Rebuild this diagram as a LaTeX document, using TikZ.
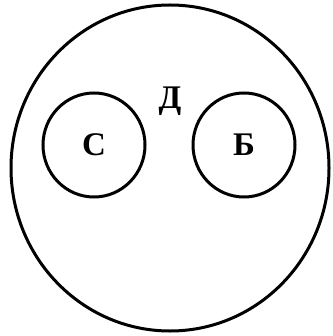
\documentclass[tikz,border=0pt]{standalone}
\usepackage{fontspec}
\setmainfont{Liberation Serif}
\usepackage{tikz}
\usetikzlibrary{shapes.geometric, positioning}

\begin{document}
\begin{tikzpicture}[x=1pt, y=-1pt,
        ring/.style={draw=black, line width=3pt, ellipse, inner sep=0pt, font=\fontsize{33}{36}\selectfont\bfseries},
        letter/.style={font=\fontsize{33}{36}\selectfont\bfseries, inner sep=0pt}
    ]
        \useasboundingbox (0,0) rectangle (332,336);
        \node (whole) [ring, minimum width=318pt, minimum height=326pt] at (170,168) {};
        \node (setc) [ring, minimum width=102pt, minimum height=104pt] at (94,145) {С};
        \node (setb) [ring, minimum width=102pt, minimum height=104pt] at (244,145) {Б};
        \node (setd) [letter] at (170,101) {Д};
    \end{tikzpicture}
\end{document}
